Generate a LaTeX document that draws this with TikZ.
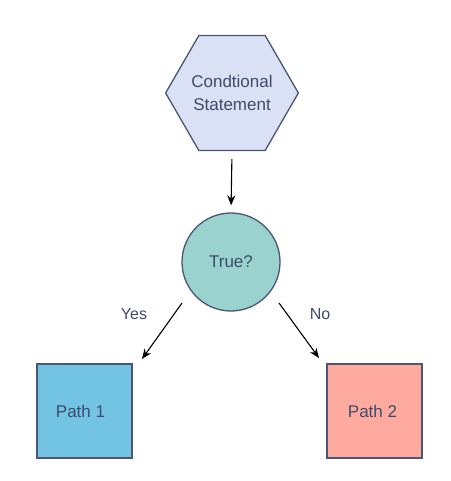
\documentclass[tikz,border=0pt]{standalone}
\usepackage{fontspec}
\setmainfont{Liberation Sans}
\usetikzlibrary{shapes.geometric,arrows.meta}
\definecolor{edgec}{HTML}{4A5578}
\definecolor{txtc}{HTML}{3D4C6C}
\definecolor{hexfill}{HTML}{DAE1F4}
\definecolor{circfill}{HTML}{9AD3CD}
\definecolor{p1fill}{HTML}{73C3E2}
\definecolor{p2fill}{HTML}{FFAA9F}
\tikzset{
  shapebase/.style={draw=edgec, line width=1.3pt, text=txtc, inner sep=0pt,
    font=\fontsize{17}{23}\selectfont, align=center},
  pathbox/.style={shapebase, minimum width=95pt, minimum height=94pt},
  conn/.style={line width=1.1pt, -{Stealth[length=10pt,width=8pt]}},
  lbl/.style={text=txtc, font=\fontsize{16}{18}\selectfont}
}
\begin{document}
\begin{tikzpicture}[x=1pt,y=-1pt]
\useasboundingbox (0,0) rectangle (450,481);
\node[shapebase, fill=hexfill, regular polygon, regular polygon sides=6,
  minimum size=131pt] (cond) at (232,93) {Condtional\\Statement};
\node[shapebase, fill=circfill, circle, minimum size=98pt] (q) at (231,262) {\raisebox{-1pt}{True?}};
\node[pathbox, fill=p1fill] (p1) at (84.5,411) {\hspace*{-8pt}Path 1};
\node[pathbox, fill=p2fill] (p2) at (374.5,411) {\hspace*{-4pt}Path 2};
\coordinate (ys) at (182,303);
\coordinate (ye) at (142,359);
\coordinate (ns) at (279,303);
\coordinate (ne) at (319,358);
\draw[conn, shorten <=8pt, shorten >=7pt] (cond.south) -- (q.north);
\draw[conn] (ys) -- (ye);
\draw[conn] (ns) -- (ne);
\node[lbl] (yes) at (134,314) {Yes};
\node[lbl] (no) at (320,314) {No};
\end{tikzpicture}
\end{document}
